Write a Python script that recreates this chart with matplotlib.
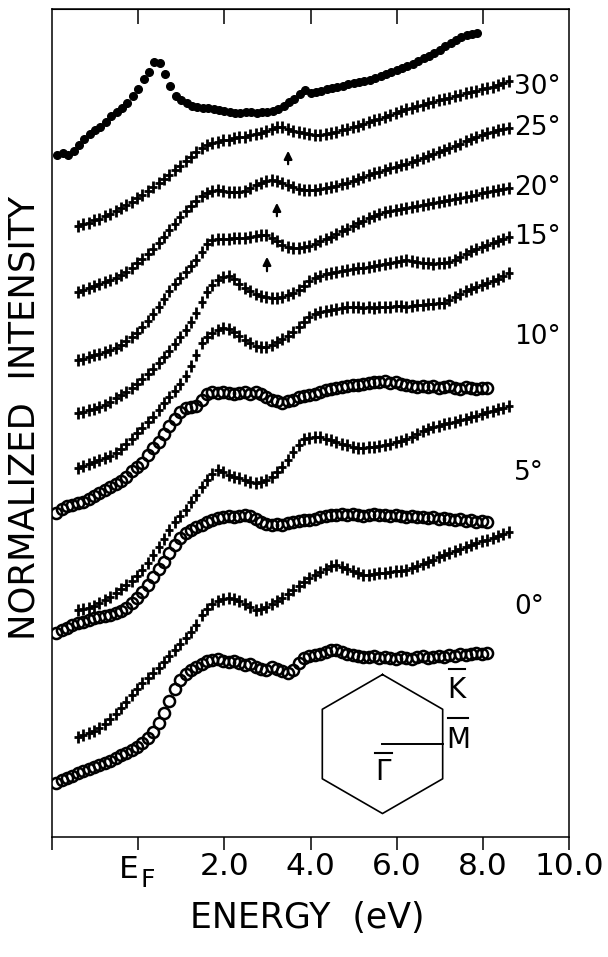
import numpy as np
import matplotlib
matplotlib.use("Agg")
import matplotlib.pyplot as plt

plt.rcParams["font.family"] = ["DejaVu Sans"]

# energy grids (eV)
e_cross = np.linspace(-1.4, 8.6, 81)
e_open = np.linspace(-1.9, 8.1, 81)
e_dot = np.linspace(-1.875, 7.875, 79)

# normalized intensity (arbitrary units, stacked)
dots = [682, 684, 682, 686, 692, 698, 703, 707, 710, 715, 721, 725, 729, 734, 741, 748,
        758, 765, 775, 774, 763, 751, 741, 737, 734, 731, 730, 729, 729, 728, 727, 726,
        725, 724, 724, 725, 725, 724, 725, 725, 726, 728, 731, 735, 738, 743, 747, 744,
        745, 746, 748, 749, 750, 751, 753, 754, 755, 756, 757, 759, 761, 763, 765, 767,
        769, 771, 773, 776, 779, 781, 784, 787, 791, 794, 797, 800, 802, 803, 804]

cross_30 = [611, 613, 614, 617, 618, 621, 623, 626, 629, 632, 635, 639, 642, 646, 650, 654,
            658, 662, 667, 671, 676, 680, 685, 689, 692, 694, 695, 697, 697, 699, 700, 700,
            702, 703, 704, 706, 708, 710, 710, 708, 706, 705, 704, 703, 702, 702, 703, 704,
            705, 707, 708, 710, 711, 713, 715, 717, 718, 720, 722, 724, 726, 728, 729, 731,
            732, 734, 735, 737, 738, 739, 741, 742, 744, 745, 746, 748, 749, 750, 752, 754, 756]
cross_25 = [545, 547, 549, 551, 553, 555, 557, 559, 562, 565, 569, 574, 578, 583, 588, 594,
            600, 607, 613, 620, 626, 631, 636, 641, 644, 646, 647, 646, 645, 645, 645, 646,
            649, 652, 654, 656, 657, 656, 654, 652, 650, 648, 647, 647, 647, 648, 649, 650,
            651, 653, 654, 656, 658, 660, 662, 664, 665, 667, 669, 670, 672, 673, 675, 677,
            679, 681, 683, 685, 687, 689, 691, 693, 696, 698, 700, 702, 704, 705, 707, 708, 709]
cross_20 = [477, 478, 480, 482, 483, 485, 487, 489, 492, 496, 500, 504, 510, 516, 523, 530,
            538, 546, 553, 559, 565, 571, 577, 585, 593, 597, 598, 598, 598, 599, 599, 599,
            600, 601, 602, 602, 599, 596, 592, 590, 589, 589, 590, 591, 593, 596, 598, 600,
            603, 606, 608, 611, 614, 616, 619, 621, 623, 625, 626, 627, 628, 629, 630, 631,
            632, 633, 634, 635, 636, 637, 638, 639, 640, 641, 642, 644, 645, 646, 647, 648, 649]
cross_15 = [424, 425, 427, 428, 430, 432, 435, 439, 442, 445, 449, 453, 458, 463, 468, 474,
            480, 486, 493, 500, 507, 515, 524, 535, 545, 552, 557, 560, 561, 558, 553, 549,
            546, 543, 541, 540, 539, 539, 540, 542, 544, 547, 551, 556, 559, 561, 563, 564,
            565, 566, 567, 568, 569, 569, 570, 571, 572, 573, 574, 575, 576, 577, 576, 575,
            574, 574, 573, 574, 574, 575, 577, 580, 583, 586, 588, 590, 592, 594, 596, 598, 600]
cross_10 = [369, 371, 373, 375, 377, 379, 381, 384, 388, 393, 398, 404, 409, 415, 420, 427,
            434, 440, 446, 453, 461, 471, 482, 494, 500, 504, 507, 509, 508, 505, 501, 497,
            494, 491, 490, 490, 492, 495, 498, 501, 505, 510, 515, 520, 523, 525, 526, 527,
            528, 529, 530, 530, 530, 529, 530, 529, 530, 530, 530, 531, 531, 530, 531, 532,
            532, 533, 533, 534, 534, 537, 540, 543, 546, 548, 550, 552, 554, 556, 558, 561, 564]
cross_5 = [227, 228, 229, 231, 234, 237, 240, 244, 248, 252, 256, 261, 267, 274, 282, 290,
           298, 307, 315, 321, 327, 335, 342, 350, 357, 363, 367, 365, 362, 360, 359, 357,
           355, 354, 355, 357, 360, 365, 370, 377, 385, 392, 398, 399, 400, 400, 398, 397,
           395, 393, 392, 390, 389, 389, 390, 390, 391, 392, 393, 395, 396, 398, 400, 403,
           406, 408, 410, 411, 413, 414, 415, 417, 418, 420, 421, 423, 425, 426, 428, 429, 431]
cross_0 = [100, 102, 104, 106, 109, 113, 118, 123, 129, 135, 142, 148, 154, 159, 164, 169,
           175, 181, 187, 193, 199, 205, 212, 222, 228, 233, 236, 238, 239, 238, 236, 233,
           230, 227, 228, 230, 233, 236, 239, 243, 247, 251, 255, 259, 262, 265, 268, 271,
           272, 270, 268, 266, 264, 262, 262, 263, 264, 264, 265, 266, 266, 267, 269, 271,
           273, 275, 277, 280, 282, 284, 286, 288, 290, 292, 294, 296, 297, 299, 301, 303, 305]

open_1 = [324, 328, 331, 332, 334, 335, 338, 341, 344, 347, 350, 353, 356, 360, 366, 370,
          374, 382, 389, 395, 403, 411, 418, 425, 429, 430, 431, 437, 443, 445, 444, 445,
          444, 443, 444, 445, 443, 445, 443, 440, 437, 436, 434, 436, 437, 440, 441, 442,
          443, 445, 447, 448, 449, 450, 451, 452, 452, 453, 454, 455, 455, 456, 454, 455,
          453, 452, 451, 450, 451, 450, 451, 449, 450, 451, 449, 448, 450, 449, 448, 449, 449]
open_2 = [204, 207, 209, 212, 214, 215, 217, 219, 220, 221, 222, 224, 226, 229, 234, 239,
          245, 252, 260, 268, 275, 284, 292, 299, 304, 307, 310, 312, 315, 317, 319, 320,
          321, 320, 321, 322, 321, 318, 315, 313, 312, 313, 312, 314, 315, 316, 317, 317,
          318, 320, 321, 322, 322, 323, 322, 323, 322, 321, 322, 323, 322, 322, 321, 322,
          321, 320, 321, 320, 320, 319, 320, 318, 319, 318, 317, 318, 316, 317, 315, 316, 315]
open_3 = [54, 57, 59, 61, 64, 66, 68, 70, 72, 74, 76, 79, 82, 84, 87, 90,
          94, 99, 105, 114, 124, 136, 148, 157, 163, 167, 170, 173, 176, 177, 178, 176,
          175, 176, 174, 172, 173, 170, 168, 167, 170, 168, 166, 164, 167, 174, 179, 181,
          182, 183, 185, 187, 187, 185, 183, 182, 181, 180, 180, 181, 179, 180, 179, 178,
          180, 179, 178, 180, 181, 179, 180, 181, 180, 182, 181, 183, 182, 183, 184, 183, 184]

angle_labels = ["30°", "25°", "20°", "15°", "10°", "5°", "0°"]
angle_label_y = [750, 709, 649, 600, 500, 364, 230]
angle_label_x = 8.72

# arrows marking the feature near 3 eV: (energy, tail, head)
arrows = [(3.48, 670, 689), (3.22, 618, 637), (2.99, 563, 583)]

tick_pos = [-2, 0, 2, 4, 6, 8, 10]
tick_lab = ["", "", "2.0", "4.0", "6.0", "8.0", "10.0"]


fig = plt.figure(figsize=(6.08, 9.57), dpi=100)
ax = fig.add_axes([52 / 608, 1 - 837 / 957, 517 / 608, 828 / 957])

for ys in [cross_30, cross_25, cross_20, cross_15, cross_10, cross_5, cross_0]:
    ax.plot(e_cross, ys, ls="none", marker="|", ms=8.5, mew=2.0, color="black")
    ax.plot(e_cross, ys, ls="none", marker="_", ms=6.0, mew=2.0, color="black")

for ys in [open_1, open_2, open_3]:
    ax.plot(e_open, ys, ls="none", marker="o", ms=8, mfc="none", mew=1.8, color="black")

ax.plot(e_dot, dots, ls="none", marker="o", ms=5.5, color="black", mec="black")

for lab, yv in zip(angle_labels, angle_label_y):
    ax.text(angle_label_x, yv, lab, fontsize=19, va="center", ha="left")

for ex, y0, y1 in arrows:
    ax.annotate("", xy=(ex, y1), xytext=(ex, y0),
                arrowprops=dict(arrowstyle="-|>", lw=1.6, color="black", mutation_scale=12))

ax.set_xlim(-2, 10)
ax.set_ylim(0, 828)
ax.set_yticks([])
ax.set_xticks(tick_pos)
ax.set_xticklabels(tick_lab, fontsize=22.5)
ax.tick_params(axis="x", direction="out", length=9.5, width=1.1, pad=1.5)
for sp in ax.spines.values():
    sp.set_linewidth(1.1)

top = ax.secondary_xaxis("top")
top.set_xticks([0, 2, 4, 6, 8])
top.tick_params(direction="in", length=10.5, width=1.1, labeltop=False)

# E_F tick label
ax.text(0.0, -0.022, "E", transform=ax.get_xaxis_transform(), fontsize=22.5,
        ha="right", va="top")
ax.text(0.05, -0.038, "F", transform=ax.get_xaxis_transform(), fontsize=18,
        ha="left", va="top")

fig.text(307 / 608, 1 - 918 / 957, "ENERGY  (eV)", fontsize=25,
         ha="center", va="center")
fig.text(25 / 608, 1 - 418 / 957, "NORMALIZED  INTENSITY", fontsize=25.5,
         ha="center", va="center", rotation=90)

# surface Brillouin zone sketch
ins = fig.add_axes([300 / 608, 1 - 830 / 957, 190 / 608, 175 / 957])
ins.set_xlim(-1.187, 1.547)
ins.set_ylim(-1.237, 1.281)
ins.axis("off")
ang = np.deg2rad([90, 30, -30, -90, -150, 150, 90])
ins.plot(np.cos(ang), np.sin(ang), color="black", lw=1.2)
ins.plot([0, np.cos(np.deg2rad(30))], [0, 0], color="black", lw=1.4)
for name, (lx, ly), (bx0, bx1, by) in [
    ("K", (1.07, 0.78), (0.96, 1.19, 1.08)),
    ("M", (1.09, 0.06), (0.94, 1.23, 0.37)),
    ("Γ", (0.01, -0.40), (-0.11, 0.14, -0.13)),
]:
    ins.text(lx, ly, name, fontsize=20, ha="center", va="center")
    ins.plot([bx0, bx1], [by, by], color="black", lw=1.5)

fig.savefig("out.png", dpi=100)
